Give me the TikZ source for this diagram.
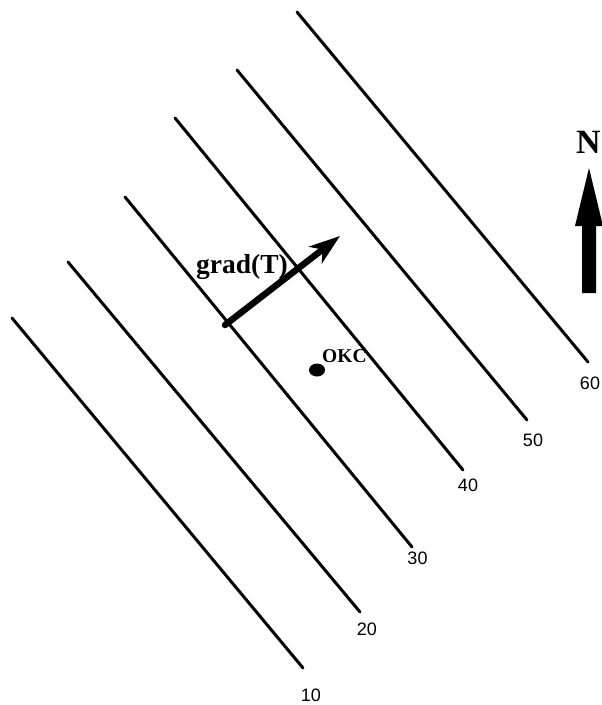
\documentclass[tikz,border=0pt]{standalone}
\usepackage{fontspec}
\setmainfont{Liberation Serif}
\newfontfamily\numfont{Liberation Sans}
\usetikzlibrary{arrows.meta}

\begin{document}
\begin{tikzpicture}[x=1pt, y=-1pt, >=Stealth,
  iso/.style={line width=3pt, line cap=round},
  isolab/.style={font=\numfont\fontsize{18}{20}\selectfont, inner sep=0pt},
  grad/.style={line width=6.5pt, line cap=round, -{Stealth[length=31pt, width=21pt, inset=9pt]}},
  bold/.style={font=\bfseries, inner sep=0pt}]
\useasboundingbox (0,0) rectangle (602,705);
% isotherms
\coordinate (a10) at (12,318);  \coordinate (b10) at (303,668);
\coordinate (a20) at (68,262);  \coordinate (b20) at (360,612);
\coordinate (a30) at (125,197); \coordinate (b30) at (412,547);
\coordinate (a40) at (175,118); \coordinate (b40) at (463,470);
\coordinate (a50) at (237,70);  \coordinate (b50) at (527,420);
\coordinate (a60) at (297,12);  \coordinate (b60) at (588,362);
\draw[iso] (a10) -- (b10);
\draw[iso] (a20) -- (b20);
\draw[iso] (a30) -- (b30);
\draw[iso] (a40) -- (b40);
\draw[iso] (a50) -- (b50);
\draw[iso] (a60) -- (b60);
\node[isolab] (t10) at (311,695) {10};
\node[isolab] (t20) at (367,629) {20};
\node[isolab] (t30) at (417.5,558.5) {30};
\node[isolab] (t40) at (468,485.5) {40};
\node[isolab] (t50) at (533,440) {50};
\node[isolab] (t60) at (590,383.5) {60};
% gradient vector
\coordinate (gs) at (225,325);
\coordinate (ge) at (340,236);
\draw[grad] (gs) -- (ge);
\node[bold, font=\bfseries\fontsize{27.5}{30}\selectfont, anchor=base west] (gradlab) at (196,273) {grad(T)};
% city
\fill (317,370) ellipse (8 and 6.5);
\node[bold, font=\bfseries\fontsize{19.5}{22}\selectfont, anchor=base west] (okc) at (322,362) {OKC};
% north arrow
\fill (582,293) -- (582,226) -- (575,226) -- (589,168) -- (603,226) -- (596,226) -- (596,293) -- cycle;
\node[bold, font=\bfseries\fontsize{34}{36}\selectfont, anchor=base] (north) at (588.5,153) {N};
\end{tikzpicture}
\end{document}
